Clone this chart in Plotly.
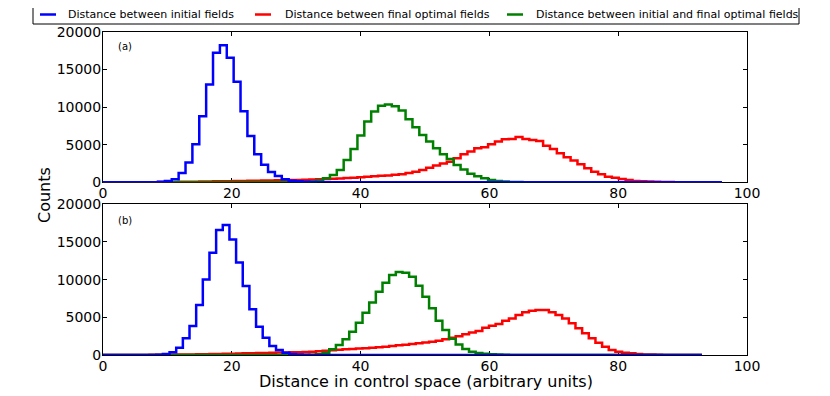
import numpy as np
import plotly.graph_objects as go

# histogram counts, 90 shared bins per panel
blue_a = [0] * 7 + [20, 60, 180, 400, 1240, 2620, 5060, 8790, 13000, 17230,
                    18250, 16560, 13370, 9460, 6170, 3730, 2350, 1380, 840, 400,
                    220, 130, 60, 30, 10] + [0] * 58
red_a = [0] * 5 + [10, 15, 20, 30, 40, 50, 60, 70, 80, 95,
                   110, 125, 140, 155, 170, 185, 200, 215, 230, 250,
                   270, 290, 300, 320, 340, 360, 400, 440, 480, 520,
                   570, 620, 680, 740, 800, 860, 920, 990, 1080, 1230,
                   1400, 1650, 1950, 2250, 2500, 2750, 3200, 3730, 4090, 4530,
                   4660, 5060, 5420, 5730, 5770, 6040, 5770, 5640, 5500, 4880,
                   4440, 3860, 3330, 2890, 2400, 1860, 1420, 1070, 750, 620,
                   440, 310, 180, 130, 90, 60, 40, 25, 15, 10, 5] + [0] * 4
green_a = [0] * 28 + [20, 50, 120, 250, 530, 980, 1640, 2980, 4440, 6220,
                      8080, 9410, 10170, 10350, 10120, 9550, 8390, 7330, 6300, 5420,
                      4530, 3730, 3110, 2310, 1700, 1150, 800, 530, 310, 180,
                      100, 50, 25, 10] + [0] * 28

blue_b = [0] * 7 + [10, 40, 130, 350, 970, 2210, 3850, 6630, 10030, 13570,
                    16580, 17240, 15340, 12290, 9150, 6060, 3760, 2300, 1190, 660,
                    310, 130, 60, 25, 10] + [0] * 58
red_b = [0] * 5 + [10, 15, 20, 30, 40, 50, 60, 70, 80, 90,
                   100, 120, 140, 160, 180, 200, 220, 240, 260, 280,
                   300, 320, 340, 360, 380, 400, 440, 500, 560, 620,
                   690, 750, 800, 850, 910, 960, 1020, 1100, 1180, 1280,
                   1370, 1460, 1560, 1660, 1770, 1900, 2100, 2300, 2500, 2750,
                   3000, 3200, 3620, 3890, 4110, 4550, 4860, 5300, 5660, 5880,
                   5970, 5970, 5660, 5300, 4860, 4200, 3540, 2870, 2210, 1640,
                   1100, 660, 440, 310, 220, 130, 80, 50, 30, 15, 8] + [0] * 4
green_b = [0] * 31 + [30, 90, 310, 750, 1330, 2080, 3090, 4290, 5610, 6980,
                      8400, 9590, 10610, 11010, 10920, 10390, 9190, 7740, 6190, 4550,
                      3320, 2150, 1400, 800, 420, 260, 170, 110, 60, 30, 15] + [0] * 28

# bin ranges of the two panels
range_a = (0, 96.1)
range_b = (0, 93.0)
n_bins = 90

names = ['Distance between initial fields',
         'Distance between final optimal fields',
         'Distance between initial and final optimal fields']
colors = ['#0000ff', '#ff0000', '#008000']

# the page body adds an 8px margin, so the figure is 8px smaller
OFF = 8
W, H = 830 - OFF, 396 - OFF
L, R, T, B = 103 - OFF, 83, 32 - OFF, 41
pw, ph = W - L - R, H - T - B


def px(x):  # window pixel -> paper x
    return (x - OFF - L) / pw


def py(y):  # window pixel -> paper y
    return (H - B - (y - OFF)) / ph


fig = go.Figure()


def add_hist(counts, rng, color, xa, ya):
    edges = np.linspace(rng[0], rng[1], n_bins + 1)
    fig.add_trace(go.Scatter(x=edges, y=list(counts) + [counts[-1]], mode='lines',
                             line=dict(color=color, width=2.5, shape='hv'),
                             showlegend=False, xaxis=xa, yaxis=ya, hoverinfo='skip'))


# red and green first so the blue baseline sits on top
add_hist(red_a, range_a, colors[1], 'x', 'y')
add_hist(red_b, range_b, colors[1], 'x2', 'y2')
add_hist(green_a, range_a, colors[2], 'x', 'y')
add_hist(green_b, range_b, colors[2], 'x2', 'y2')
add_hist(blue_a, range_a, colors[0], 'x', 'y')
add_hist(blue_b, range_b, colors[0], 'x2', 'y2')

ax = dict(range=[0, 100], dtick=20, showline=True, linecolor='black', linewidth=1,
          mirror='allticks', ticks='inside', ticklen=4, tickcolor='black',
          showgrid=False, zeroline=False, tickfont=dict(size=14, color='black'),
          layer='below traces', automargin=False, ticklabelstandoff=-2)
ay = dict(ax, range=[0, 20000], dtick=5000, tickformat='d')

# legend drawn by hand: box, line samples, labels
shapes = [dict(type='rect', xref='paper', yref='paper', x0=px(33), x1=px(799),
               y0=py(24), y1=py(5), line=dict(color='black', width=1),
               fillcolor='white')]
annotations = []
leg_lines = [(40, 56), (255, 271), (507, 523)]
leg_text = [66, 283, 534]
for (a, b), t, name, color in zip(leg_lines, leg_text, names, colors):
    shapes.append(dict(type='line', xref='paper', yref='paper', x0=px(a), x1=px(b),
                       y0=py(14.5), y1=py(14.5), line=dict(color=color, width=2.5)))
    annotations.append(dict(text=name, x=px(t), y=py(14.5), xref='paper', yref='paper',
                            xanchor='left', yanchor='middle', showarrow=False,
                            font=dict(size=11)))

annotations += [
    dict(text='(a)', x=0.0205, y=0.901, xref='x domain', yref='y domain',
         xanchor='left', yanchor='middle', showarrow=False, font=dict(size=10)),
    dict(text='(b)', x=0.0205, y=0.89, xref='x2 domain', yref='y2 domain',
         xanchor='left', yanchor='middle', showarrow=False, font=dict(size=10)),
    dict(text='Counts', x=px(44), y=py(195), xref='paper', yref='paper',
         xanchor='center', yanchor='middle',
         textangle=-90, showarrow=False, font=dict(size=16)),
    dict(text='Distance in control space (arbitrary units)', x=px(426), y=py(381),
         xref='paper', yref='paper', xanchor='center', yanchor='middle',
         showarrow=False, font=dict(size=16)),
]

fig.update_layout(
    width=W, height=H,
    margin=dict(l=L, r=R, t=T, b=B),
    plot_bgcolor='white', paper_bgcolor='white',
    font=dict(family='DejaVu Sans', color='black'),
    xaxis=dict(ax, anchor='y'),
    yaxis=dict(ay, anchor='x', domain=[py(182.3), 1]),
    xaxis2=dict(ax, anchor='y2'),
    yaxis2=dict(ay, anchor='x2', domain=[0, py(204.3)]),
    showlegend=False,
    shapes=shapes,
    annotations=annotations,
)

fig.write_html("out.html")
